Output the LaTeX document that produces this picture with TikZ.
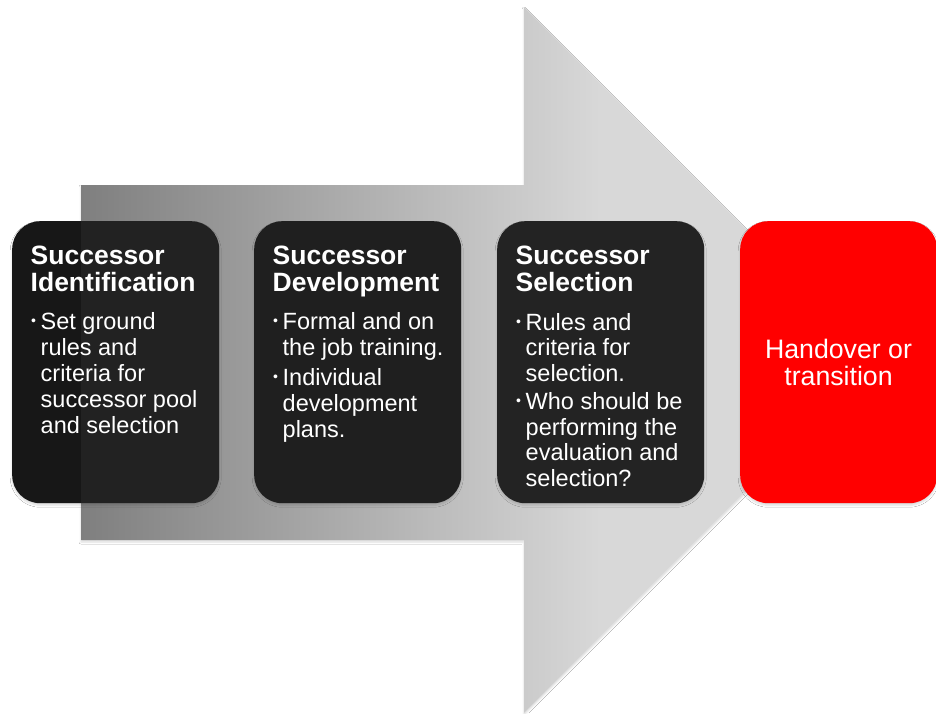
\documentclass[tikz,border=0pt]{standalone}
\usepackage{fontspec}
\setmainfont{Liberation Sans}
\usetikzlibrary{shadows.blur}

\definecolor{shaftdark}{HTML}{7F7F7F}
\definecolor{headgray}{HTML}{D8D8D8}
\definecolor{cardA}{HTML}{171717}
\definecolor{cardB}{HTML}{1F1F1F}
\definecolor{cardC}{HTML}{232323}
\definecolor{handred}{HTML}{FF0000}

\newcommand\ttlfont{\fontsize{26.5}{27}\selectfont\bfseries}
\newcommand\bodyfont{\fontsize{23.5}{26}\selectfont}
\newcommand\redfont{\fontsize{26.7}{27}\selectfont}
\newcommand\itemmark{\makebox[10pt][l]{\hspace{0.5pt}\raisebox{3.8pt}{\fontsize{14}{14}\selectfont •}}}

\tikzset{
  softshadow/.style={blur shadow={shadow xshift=0pt, shadow yshift=-2pt,
      shadow blur radius=2pt, shadow opacity=15}},
  card/.style={rounded corners=28pt, minimum width=207pt, minimum height=282pt,
      inner sep=0pt, anchor=north west, softshadow},
  ttl/.style={text=white, inner sep=0pt, anchor=base west, font=\ttlfont},
  bodytxt/.style={text=white, inner sep=0pt, anchor=base west, font=\bodyfont},
  redtxt/.style={text=white, inner sep=0pt, anchor=base, font=\redfont},
}

\begin{document}
\begin{tikzpicture}[x=1pt, y=-1pt]
  \useasboundingbox (0,0) rectangle (936,713);
  \fill[white] (0,0) rectangle (936,713);

  % big process arrow: shaft plus head
  \fill[white, softshadow] (81,185) -- (524,185) -- (524,7) -- (877,360)
      -- (524,713) -- (524,540) -- (81,540) -- cycle;
  \begin{scope}
    \clip (81,185) -- (524,185) -- (524,7) -- (877,360)
      -- (524,713) -- (524,540) -- (81,540) -- cycle;
    \shade[left color=shaftdark, right color=headgray] (81,0) rectangle (600,713);
    \fill[headgray] (599.5,0) rectangle (880,713);
  \end{scope}

  % stage cards
  \node[card, fill=cardA] (s1) at (12,221) {};
  \node[card, fill=cardB] (s2) at (254,221) {};
  \node[card, fill=cardC] (s3) at (497,221) {};
  \node[card, fill=handred, minimum width=197pt] (s4) at (740,221) {};

  % the shaft shows faintly through the first card
  \begin{scope}
    \clip (81,185) rectangle (524,540);
    \fill[white, opacity=0.05, rounded corners=28pt] (s1.north west) rectangle (s1.south east);
  \end{scope}

  % stage 1
  \node[ttl] (s1t1) at (30.5,264) {Successor};
  \node[ttl] (s1t2) at (30.5,291) {Identification};
  \node[bodytxt] (s1b1) at (30.5,329) {\itemmark Set ground};
  \node[bodytxt] (s1b2) at (40.5,355) {rules and};
  \node[bodytxt] (s1b3) at (40.5,381) {criteria for};
  \node[bodytxt] (s1b4) at (40.5,407) {successor pool};
  \node[bodytxt] (s1b5) at (40.5,433) {and selection};

  % stage 2
  \node[ttl] (s2t1) at (272.5,264) {Successor};
  \node[ttl] (s2t2) at (272.5,291) {Development};
  \node[bodytxt] (s2b1) at (272.5,329) {\itemmark Formal and on};
  \node[bodytxt] (s2b2) at (282.5,355) {the job training.};
  \node[bodytxt] (s2b3) at (272.5,385) {\itemmark Individual};
  \node[bodytxt] (s2b4) at (282.5,411) {development};
  \node[bodytxt] (s2b5) at (282.5,437) {plans.};

  % stage 3
  \node[ttl] (s3t1) at (515.5,264) {Successor};
  \node[ttl] (s3t2) at (515.5,291) {Selection};
  \node[bodytxt] (s3b1) at (515.5,330) {\itemmark Rules and};
  \node[bodytxt] (s3b2) at (525.5,355.5) {criteria for};
  \node[bodytxt] (s3b3) at (525.5,381) {selection.};
  \node[bodytxt] (s3b4) at (515.5,409.5) {\itemmark Who should be};
  \node[bodytxt] (s3b5) at (525.5,435) {performing the};
  \node[bodytxt] (s3b6) at (525.5,460.5) {evaluation and};
  \node[bodytxt] (s3b7) at (525.5,486) {selection?};

  % final stage
  \node[redtxt] (s4t1) at (838.5,358) {Handover or};
  \node[redtxt] (s4t2) at (838.5,385) {transition};
\end{tikzpicture}
\end{document}
